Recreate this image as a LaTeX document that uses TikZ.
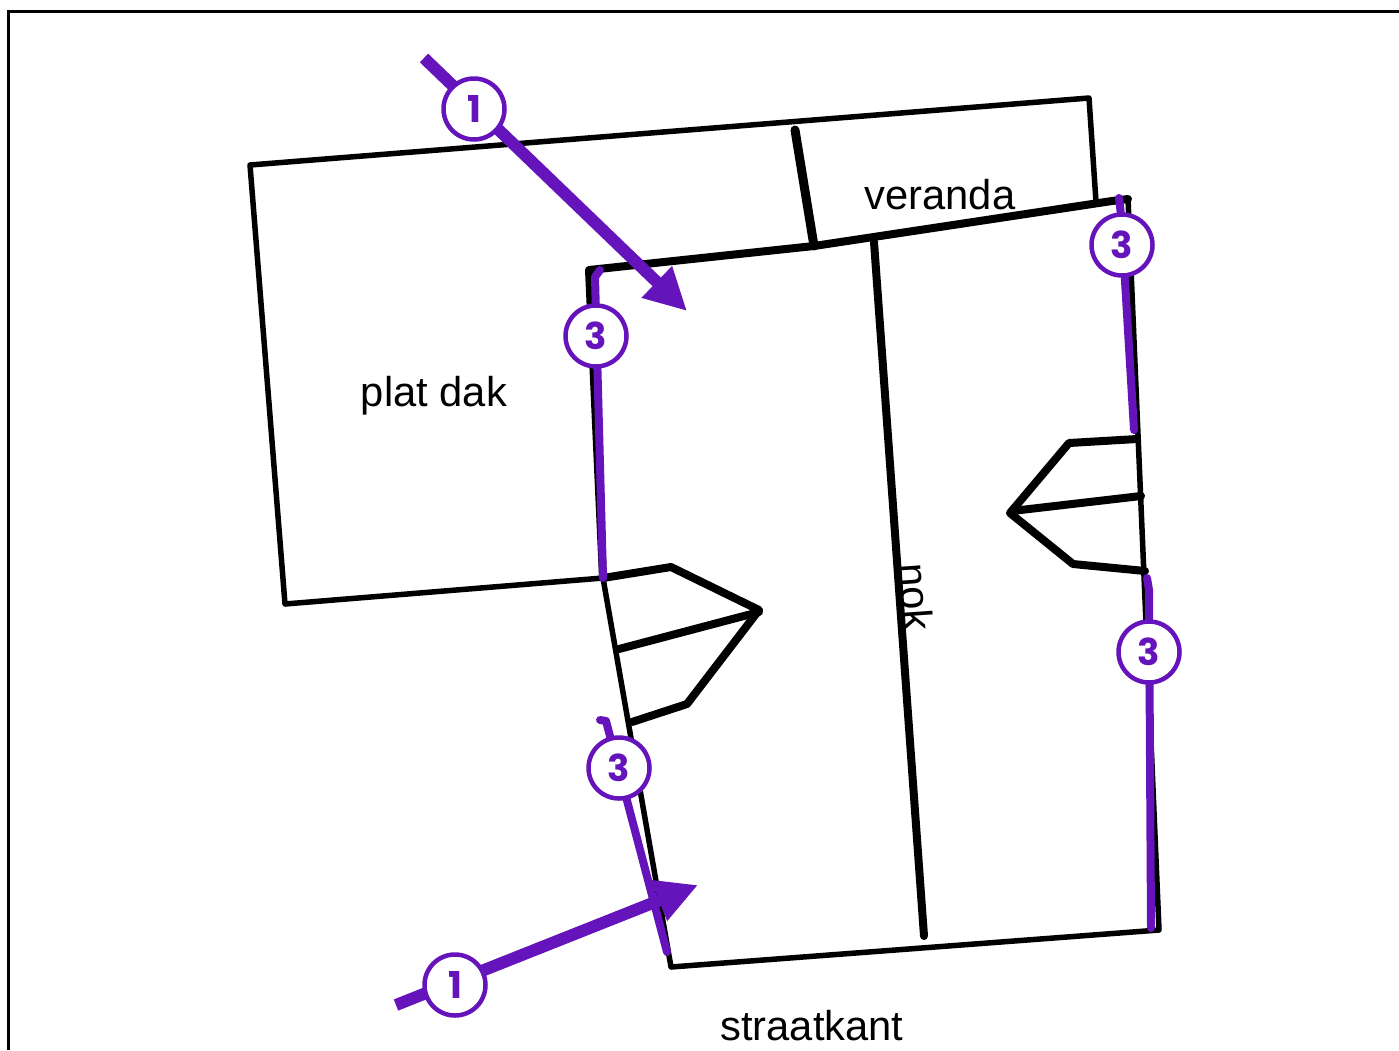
\documentclass[tikz,border=0pt]{standalone}
\usepackage{fontspec}
\setmainfont{Liberation Sans}
\newfontfamily\badgefont{Poppins}
\usetikzlibrary{arrows.meta}
\definecolor{violetline}{HTML}{6514BB}
\tikzset{
  roofline/.style={draw=black,line width=5.5pt,line cap=round,line join=round},
  heavyline/.style={draw=black,line width=8pt,line cap=round,line join=round},
  sightline/.style={draw=violetline,line width=12pt,-{Triangle[length=42pt,width=41pt]}},
  edgeline/.style={draw=violetline,line width=8pt,line cap=round,line join=round},
  badge/.style={circle,draw=violetline,line width=4.5pt,fill=white,minimum size=61pt,inner sep=0pt,
    text=violetline,font=\badgefont\bfseries\fontsize{37}{37}\selectfont},
  label/.style={font=\fontsize{41.7}{44}\selectfont,text=black,inner sep=0pt}
}
\begin{document}
\begin{tikzpicture}[x=1pt,y=-1pt]
\useasboundingbox (0,0) rectangle (1399,1050);
% frame
\coordinate (fa) at (8,1050);
\coordinate (fb) at (8,11);
\coordinate (fc) at (1399,11);
\draw[black,line width=3pt] (fa) -- (fb) -- (fc);
% corner points
\coordinate (r1) at (250,165);
\coordinate (r2) at (1089,98);
\coordinate (r3) at (1096,202);
\coordinate (r4) at (285,604);
\coordinate (w1) at (589,270);
\coordinate (w2) at (603,578);
\coordinate (w3) at (671,967);
\coordinate (w4) at (1159,930);
\coordinate (w5) at (1128,199);
\coordinate (v1) at (795,130);
\coordinate (v2) at (814,246);
\coordinate (n1) at (874,242);
\coordinate (n2) at (924,936);
% outlines
\draw[roofline] (r3) -- (r2) -- (r1) -- (r4) -- (w2);
\draw[roofline] (w2) -- (w3) -- (w4) -- (w5);
\draw[heavyline] (w2) -- (w1) -- (v2) -- (1112,201) -- (w5);
\draw[black,line width=9pt,line cap=round] (v1) -- (v2);
\draw[heavyline] (n1) -- (n2);
% left dormer
\draw[heavyline] (w2) -- (671,567) -- (759,610) -- (687,704) -- (632,722);
\draw[heavyline] (619,649) -- (759,612);
% right dormer
\draw[heavyline] (1137,439) -- (1069,443) -- (1010,513) -- (1073,564) -- (1145,571);
\draw[heavyline] (1012,511) -- (1141,496);
% labels
\node[label] (lplat) at (434,396) {plat dak};
\node[label] (lver) at (940,195) {veranda};
\node[label] (lstraat) at (812,1026) {straatkant};
\node[label,rotate=-86] (lnok) at (916,597) {nok};
% violet edges
\coordinate (e1a) at (600,270);
\coordinate (e1b) at (595,277);
\coordinate (e1c) at (603,578);
\coordinate (e2a) at (1119,198);
\coordinate (e2b) at (1121,215);
\coordinate (e2c) at (1134,430);
\coordinate (e3a) at (1147,578);
\coordinate (e3b) at (1149,590);
\coordinate (e3c) at (1151,928);
\coordinate (e4a) at (600,720);
\coordinate (e4b) at (606,721);
\coordinate (e4c) at (667,952);
\draw[edgeline] (e1a) -- (e1b) -- (e1c);
\draw[edgeline] (e2a) -- (e2b) -- (e2c);
\draw[edgeline] (e3a) -- (e3b) -- (e3c);
\draw[edgeline] (e4a) -- (e4b) -- (e4c);
% sight arrows
\coordinate (s1a) at (424,58);
\coordinate (s1b) at (687,311);
\coordinate (s2a) at (396,1005);
\coordinate (s2b) at (698,885);
\draw[sightline] (s1a) -- (s1b);
\draw[sightline] (s2a) -- (s2b);
% badges
\node[badge] (b1) at (474,109) {1};
\node[badge] (b2) at (455,985) {1};
\node[badge] (b3) at (596,336) {3};
\node[badge] (b4) at (1122,245) {3};
\node[badge] (b5) at (1149,652) {3};
\node[badge] (b6) at (619,768) {3};
\end{tikzpicture}
\end{document}
